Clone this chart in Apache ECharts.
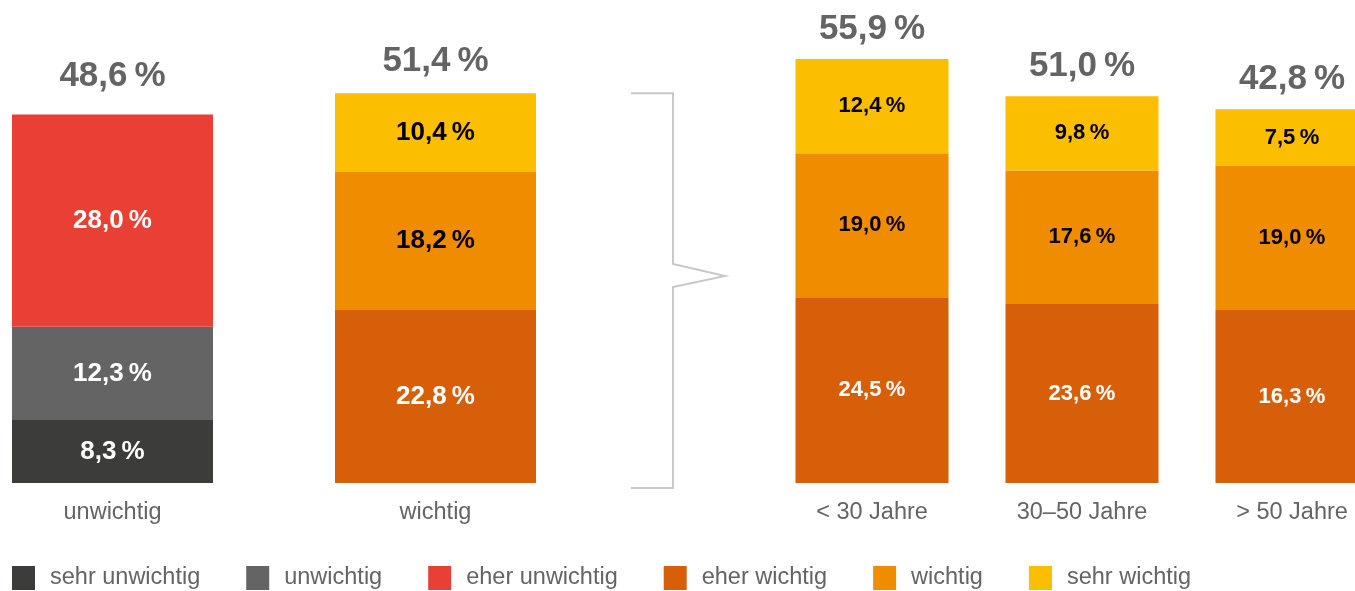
<!DOCTYPE html>
<html lang="de">
<head>
<meta charset="UTF-8">
<title>Wichtigkeit</title>
<script src="https://cdn.jsdelivr.net/npm/echarts@6/dist/echarts.min.js"></script>
</head>
<body style="margin:0">
<div id="container" style="width:1355px;height:591px;"></div>
<script>
var leftCats = ['unwichtig', 'wichtig'];
var rightCats = ['< 30 Jahre', '30–50 Jahre', '> 50 Jahre'];
var legendNames = ['sehr unwichtig', 'unwichtig', 'eher unwichtig', 'eher wichtig', 'wichtig', 'sehr wichtig'];
var colors = ['#3c3c3b', '#646464', '#e84034', '#d75f0a', '#f08c00', '#fbbe00'];
var labelColors = ['#fff', '#fff', '#fff', '#fff', '#000', '#000'];

// linke Gruppe
var sehrUnwichtig = [8.3, '-'];
var unwichtig = [12.3, '-'];
var eherUnwichtig = [28.0, '-'];
var eherWichtigL = ['-', 22.8];
var wichtigL = ['-', 18.2];
var sehrWichtigL = ['-', 10.4];
var totalsL = ['48,6', '51,4'];

// rechte Gruppe nach Alter
var eherWichtigR = [24.5, 23.6, 22.8];   // > 50: im Bild so hoch gezeichnet
var eherWichtigRText = ['24,5', '23,6', '16,3'];
var wichtigR = [19.0, 17.6, 19.0];
var sehrWichtigR = [12.4, 9.8, 7.5];
var totalsR = ['55,9', '51,0', '42,8'];

var font = "'Liberation Sans', Arial, sans-serif";

function fmt(v) {
    return v.toFixed(1).replace('.', ',') + '\u2009%';
}

function barSeries(idx, data, grid, size, texts) {
    return {
        name: legendNames[idx],
        type: 'bar',
        stack: 'g' + grid,
        xAxisIndex: grid,
        yAxisIndex: grid,
        barWidth: grid === 0 ? 201 : 153,
        itemStyle: {color: colors[idx]},
        label: {
            show: true,
            position: 'inside',
            color: labelColors[idx],
            fontFamily: font,
            fontWeight: 'bold',
            fontSize: size,
            formatter: function (p) {
                return texts ? texts[p.dataIndex] + '\u2009%' : fmt(p.value);
            }
        },
        emphasis: {disabled: true},
        data: data
    };
}

function sums(lists) {
    var res = [];
    for (var i = 0; i < lists[0].length; i++) {
        var s = 0;
        lists.forEach(function (l) {
            if (l[i] !== '-') s += l[i];
        });
        res.push(+s.toFixed(1));
    }
    return res;
}

function totalSeries(grid, heights, texts, dists) {
    return {
        type: 'scatter',
        xAxisIndex: grid,
        yAxisIndex: grid,
        symbolSize: 0,
        silent: true,
        itemStyle: {opacity: 1},
        data: heights.map(function (h, i) {
            return {
                value: [i, h],
                label: {distance: dists[i]}
            };
        }),
        label: {
            show: true,
            position: 'top',
            color: '#646464',
            opacity: 1,
            fontFamily: font,
            fontWeight: 'bold',
            fontSize: 35,
            formatter: function (p) {
                return texts[p.dataIndex] + '\u2009%';
            }
        }
    };
}

var heightsL = sums([sehrUnwichtig, unwichtig, eherUnwichtig, eherWichtigL, wichtigL, sehrWichtigL]);
var heightsR = sums([eherWichtigR, wichtigR, sehrWichtigR]);

var axisLabel = {color: '#646464', fontFamily: font, fontSize: 23.5, margin: 18};

var myChart = echarts.init(document.getElementById('container'));

var option = {
    backgroundColor: '#fff',
    animation: false,
    grid: [
        {left: -49, width: 646, top: 28, bottom: 108, outerBoundsMode: 'none', containLabel: false},
        {left: 767, width: 630, top: 28, bottom: 108, outerBoundsMode: 'none', containLabel: false}
    ],
    xAxis: [
        {type: 'category', gridIndex: 0, data: leftCats, axisLine: {show: false},
            axisTick: {show: false}, axisLabel: axisLabel},
        {type: 'category', gridIndex: 1, data: rightCats, axisLine: {show: false},
            axisTick: {show: false}, axisLabel: axisLabel}
    ],
    yAxis: [
        {type: 'value', gridIndex: 0, min: 0, max: 60, show: false},
        {type: 'value', gridIndex: 1, min: 0, max: 60, show: false}
    ],
    legend: {
        data: legendNames,
        left: 12,
        bottom: 1,
        itemWidth: 23,
        itemHeight: 24,
        itemGap: 46,
        icon: 'rect',
        padding: 0,
        selectedMode: false,
        textStyle: {color: '#646464', fontFamily: font, fontSize: 23.5, padding: [0, 0, 0, 10]}
    },
    series: [
        barSeries(0, sehrUnwichtig, 0, 26),
        barSeries(1, unwichtig, 0, 26),
        barSeries(2, eherUnwichtig, 0, 26),
        barSeries(3, eherWichtigL, 0, 26),
        barSeries(4, wichtigL, 0, 26),
        barSeries(5, sehrWichtigL, 0, 26),
        barSeries(3, eherWichtigR, 1, 22, eherWichtigRText),
        barSeries(4, wichtigR, 1, 22),
        barSeries(5, sehrWichtigR, 1, 22),
        totalSeries(0, heightsL, totalsL, [21, 14]),
        totalSeries(1, heightsR, totalsR, [12, 12, 12])
    ]
};

myChart.setOption(option);

// Klammer zwischen "wichtig" und den Altersgruppen
var topY = myChart.convertToPixel({gridIndex: 0}, [1, heightsL[1]])[1];
var baseY = myChart.convertToPixel({gridIndex: 0}, [1, 0])[1];
myChart.setOption({
    graphic: [{
        type: 'polyline',
        shape: {
            points: [[631, topY], [673, topY], [673, 264], [725, 276], [673, 287], [673, baseY + 5], [631, baseY + 5]]
        },
        style: {stroke: '#c8c8c8', lineWidth: 2, fill: null}
    }]
});
</script>
</body>
</html>
